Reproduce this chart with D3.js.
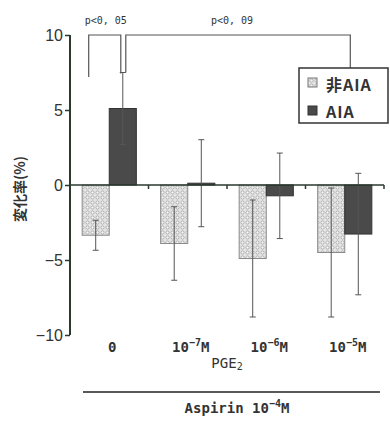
<!DOCTYPE html>
<html>
<head>
<meta charset="utf-8">
<script src="https://cdn.jsdelivr.net/npm/d3@7"></script>
<style>
  html, body { margin: 0; padding: 0; background: #fff; }
  svg { display: block; }
</style>
</head>
<body>
<svg id="chart" width="390" height="425"></svg>
<script>
// groups along x (PGE2 concentration)
const groups = ['0', '-7', '-6', '-5'];
const series = ['nonAIA', 'AIA'];
const seriesLabels = ['非AIA', 'AIA'];
const nonAiaMean = [-3.35, -3.9, -4.9, -4.5];
const nonAiaErr = [1.0, 2.45, 3.9, 4.3];
const aiaMean = [5.1, 0.12, -0.72, -3.27];
const aiaErr = [2.4, 2.9, 2.85, 4.05];
const yTicks = [10, 5, 0, -5, -10];

const width = 390, height = 425;
const svg = d3.select('#chart');
const axisColor = '#2a3a2e';
const textColor = '#333';
const latinFont = '"DejaVu Sans Mono", monospace';

const x = d3.scaleBand().domain(groups).range([70, 384]).paddingInner(0.31).paddingOuter(0.155);
const xs = d3.scaleBand().domain(series).range([0, x.bandwidth()]);
const y = d3.scaleLinear().domain([-10, 10]).range([335, 35]);

// dotted pattern for the non-AIA bars
const defs = svg.append('defs');
const pat = defs.append('pattern')
  .attr('id', 'dots')
  .attr('patternUnits', 'userSpaceOnUse')
  .attr('width', 5).attr('height', 5);
pat.append('rect').attr('width', 5).attr('height', 5).attr('fill', '#e4e4e4');
pat.append('circle').attr('cx', 2.5).attr('cy', 2.5).attr('r', 1.6)
  .attr('fill', '#f6f6f6').attr('stroke', '#9a9a9a').attr('stroke-width', 0.7);

const rows = groups.map((g, i) => [
  { g, s: 'nonAIA', v: nonAiaMean[i], e: nonAiaErr[i] },
  { g, s: 'AIA', v: aiaMean[i], e: aiaErr[i] }
]).flat();

// bars
svg.append('g')
  .selectAll('rect')
  .data(rows)
  .join('rect')
  .attr('x', d => x(d.g) + xs(d.s))
  .attr('width', xs.bandwidth())
  .attr('y', d => y(Math.max(0, d.v)))
  .attr('height', d => Math.abs(y(d.v) - y(0)))
  .attr('fill', d => d.s === 'AIA' ? '#4a4a4a' : 'url(#dots)')
  .attr('stroke', d => d.s === 'AIA' ? '#333' : '#8a8a8a')
  .attr('stroke-width', 1);

// error bars
const eb = svg.append('g').attr('stroke', '#555').attr('stroke-width', 1);
rows.forEach(d => {
  const cx = x(d.g) + xs(d.s) + xs.bandwidth() / 2;
  eb.append('line').attr('x1', cx).attr('x2', cx).attr('y1', y(d.v + d.e)).attr('y2', y(d.v - d.e));
  [d.v + d.e, d.v - d.e].forEach(v => {
    eb.append('line').attr('x1', cx - 3).attr('x2', cx + 3).attr('y1', y(v)).attr('y2', y(v));
  });
});

// zero line with group ticks
svg.append('line')
  .attr('x1', x.range()[0]).attr('x2', x.range()[1])
  .attr('y1', y(0)).attr('y2', y(0))
  .attr('stroke', axisColor).attr('stroke-width', 1.5);
groups.forEach(g => {
  const bx = x(g) + x.bandwidth() + x.step() * x.paddingInner() / 2;
  svg.append('line').attr('x1', bx).attr('x2', bx).attr('y1', y(0)).attr('y2', y(0) + 4)
    .attr('stroke', axisColor).attr('stroke-width', 1.5);
});

// y axis
const yAxis = svg.append('g')
  .attr('transform', 'translate(70,0)')
  .call(d3.axisLeft(y).tickValues(yTicks).tickSize(5).tickPadding(2).tickFormat(d => d === 0 ? '0' : d3.format('d')(d).replace('-', '−')));
yAxis.select('.domain').attr('stroke', axisColor).attr('stroke-width', 2).attr('d', `M0,${y(10)}V${y(-10)}`);
yAxis.selectAll('.tick line').attr('stroke', axisColor).attr('stroke-width', 1.5);
yAxis.selectAll('.tick text')
  .attr('font-family', 'Liberation Sans, Arial, sans-serif')
  .attr('font-size', 16)
  .attr('fill', textColor);

// y label
svg.append('text')
  .attr('transform', `translate(25,${y(0) + 4}) rotate(-90)`)
  .attr('text-anchor', 'middle')
  .attr('font-family', '"Noto Sans CJK JP", sans-serif')
  .attr('font-weight', 'bold')
  .attr('font-size', 14)
  .attr('fill', textColor)
  .text('変化率(%)');

// x labels
const xl = svg.append('g')
  .attr('font-family', latinFont)
  .attr('font-weight', 'bold')
  .attr('font-size', 14)
  .attr('fill', textColor)
  .attr('text-anchor', 'middle');
groups.forEach(g => {
  const t = xl.append('text').attr('x', x(g) + x.bandwidth() / 2 + 3).attr('y', 352);
  if (g === '0') { t.text('0'); return; }
  t.append('tspan').text('10');
  t.append('tspan').attr('dy', -6).attr('font-size', 10).text('−' + g.slice(1));
  t.append('tspan').attr('dy', 6).text('M');
});

const pge = xl.append('text').attr('x', (x.range()[0] + x.range()[1]) / 2).attr('y', 368).attr('font-weight', 'normal');
pge.append('tspan').text('PGE');
pge.append('tspan').attr('font-size', 10).attr('dy', 2).text('2');

svg.append('line')
  .attr('x1', 83).attr('x2', 380).attr('y1', 392).attr('y2', 392)
  .attr('stroke', '#222').attr('stroke-width', 1.5);

const asp = xl.append('text').attr('x', 237).attr('y', 413);
asp.append('tspan').text('Aspirin 10');
asp.append('tspan').attr('dy', -6).attr('font-size', 10).text('−4');
asp.append('tspan').attr('dy', 6).text('M');

// significance brackets
const br = svg.append('g').attr('stroke', '#555').attr('stroke-width', 1.2).attr('fill', 'none');
const g0 = x(groups[0]);
const leftLeg = g0 + xs('nonAIA') + xs.bandwidth() / 2 - 7;
const aiaCx = g0 + xs('AIA') + xs.bandwidth() / 2;
const topY = y(10);
br.append('path').attr('d', `M${leftLeg},${y(7.2)}V${topY}H${aiaCx - 2}V${y(aiaMean[0] + aiaErr[0]) + 1}`);
const g3 = x(groups[3]);
const rightLeg = g3 + xs('AIA') + xs.bandwidth() / 2 - 8;
br.append('path').attr('d', `M${aiaCx + 3},${y(aiaMean[0] + aiaErr[0])}V${topY}H${rightLeg}V68`);

const pf = svg.append('g')
  .attr('font-family', latinFont)
  .attr('font-size', 10)
  .attr('fill', textColor)
  .attr('text-anchor', 'middle');
pf.append('text').attr('x', (leftLeg + aiaCx) / 2).attr('y', 24).text('p<0, 05');
pf.append('text').attr('x', 232).attr('y', 24).text('p<0, 09');

// legend
const lg = svg.append('g').attr('transform', 'translate(299,68)');
lg.append('rect').attr('width', 89).attr('height', 55).attr('fill', '#fff').attr('stroke', '#333').attr('stroke-width', 1.5);
series.forEach((s, i) => {
  lg.append('rect').attr('x', 9).attr('y', 10 + i * 28).attr('width', 9).attr('height', 9)
    .attr('fill', s === 'AIA' ? '#4a4a4a' : 'url(#dots)')
    .attr('stroke', s === 'AIA' ? '#333' : '#777');
  lg.append('text').attr('x', 27).attr('y', 23 + i * 27)
    .attr('font-family', '"Noto Sans CJK JP", sans-serif')
    .attr('font-weight', 'bold')
    .attr('font-size', 16)
    .attr('letter-spacing', 1)
    .attr('fill', textColor)
    .text(seriesLabels[i]);
});
</script>
</body>
</html>
